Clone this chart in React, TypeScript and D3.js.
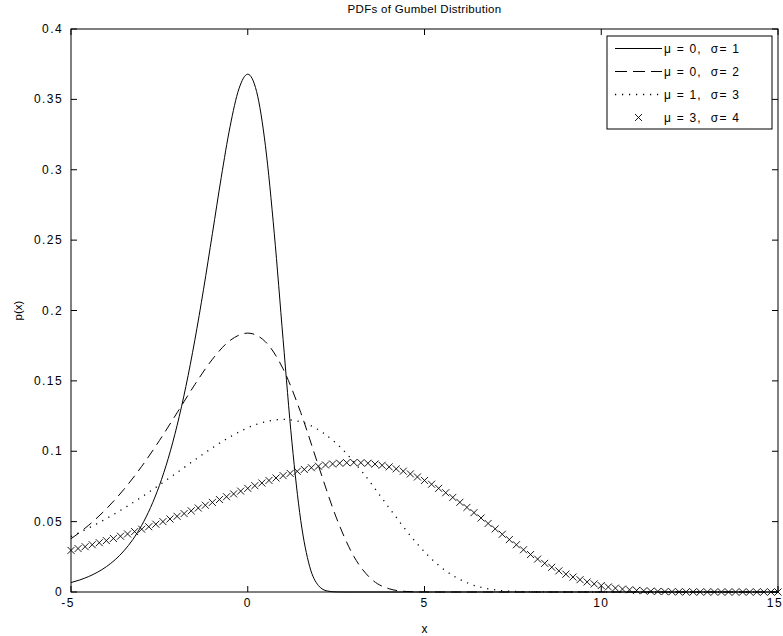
import React from 'react';
import * as d3 from 'd3';

const TITLE = 'PDFs of Gumbel Distribution';
const X_LABEL = 'x';
const Y_LABEL = 'p(x)';
const X_TICKS = [-5, 0, 5, 10, 15];
const X_TICK_LABELS = ['-5', '0', '5', '10', '15'];
const Y_TICKS = [0, 0.05, 0.1, 0.15, 0.2, 0.25, 0.3, 0.35, 0.4];
const Y_TICK_LABELS = ['0', '0.05', '0.1', '0.15', '0.2', '0.25', '0.3', '0.35', '0.4'];
const LEGEND_LABELS = ['\u03bc = 0,  \u03c3= 1', '\u03bc = 0,  \u03c3= 2', '\u03bc = 1,  \u03c3= 3', '\u03bc = 3,  \u03c3= 4'];

// x grids for each curve
const X1 = d3.range(81).map((i) => -5 + i * 0.25);
const X2 = d3.range(41).map((i) => -5 + i * 0.5);
const X3 = d3.range(27).map((i) => -5 + i * 0.75);
const X4 = d3.range(101).map((i) => -5 + i * 0.2);

// mu = 0, sigma = 1
const Y1 = [
  0.006693, 0.008577, 0.010986, 0.014062, 0.017983, 0.022971, 0.029299, 0.0373, 0.047369, 0.059969,
  0.075616, 0.094856, 0.118205, 0.146056, 0.178506, 0.215132, 0.254646, 0.294536, 0.330703, 0.357438,
  0.367879, 0.355573, 0.317049, 0.254866, 0.179374, 0.10642, 0.050705, 0.018232, 0.004567, 0.000717,
  0.000063, 0, 0, 0, 0, 0, 0, 0, 0, 0,
  0, 0, 0, 0, 0, 0, 0, 0, 0, 0,
  0, 0, 0, 0, 0, 0, 0, 0, 0, 0,
  0, 0, 0, 0, 0, 0, 0, 0, 0, 0,
  0, 0, 0, 0, 0, 0, 0, 0, 0, 0,
  0,
];
// mu = 0, sigma = 2
const Y2 = [
  0.037808, 0.047428, 0.059103, 0.073028, 0.089253, 0.107566, 0.127323, 0.147268, 0.165352, 0.178719,
  0.18394, 0.177787, 0.158525, 0.127433, 0.089687, 0.05321, 0.025353, 0.009116, 0.002284, 0.000359,
  0.000031, 0, 0, 0, 0, 0, 0, 0, 0, 0,
  0, 0, 0, 0, 0, 0, 0, 0, 0, 0,
  0,
];
// mu = 1, sigma = 3
const Y3 = [
  0.039402, 0.048685, 0.059502, 0.071711, 0.084882, 0.098179, 0.110234, 0.119146, 0.122626, 0.118524,
  0.105683, 0.084955, 0.059791, 0.035473, 0.016902, 0.006077, 0.001522, 0.000239, 0.000021, 0,
  0, 0, 0, 0, 0, 0, 0,
];
// mu = 3, sigma = 4 (markers)
const Y4 = [
  0.029551, 0.030852, 0.032198, 0.03359, 0.035029, 0.036514, 0.038045, 0.039623, 0.041247, 0.042915,
  0.044627, 0.046381, 0.048176, 0.05001, 0.05188, 0.053783, 0.055716, 0.057675, 0.059656, 0.061653,
  0.063662, 0.065675, 0.067687, 0.069689, 0.071674, 0.073634, 0.075556, 0.077433, 0.079254, 0.081005,
  0.082676, 0.084254, 0.085725, 0.087075, 0.088292, 0.08936, 0.090263, 0.09099, 0.091526, 0.091857,
  0.09197, 0.091853, 0.091496, 0.090888, 0.090022, 0.088893, 0.087497, 0.085832, 0.083901, 0.081708,
  0.079262, 0.07657, 0.073652, 0.070522, 0.067203, 0.063717, 0.060095, 0.056363, 0.052555, 0.048699,
  0.044844, 0.04101, 0.037237, 0.033558, 0.030005, 0.026605, 0.023387, 0.020369, 0.017571, 0.015005,
  0.012676, 0.010591, 0.008745, 0.007132, 0.00574, 0.004558, 0.003567, 0.00275, 0.002087, 0.001557,
  0.001142, 0.000822, 0.00058, 0.000401, 0.000272, 0.000179, 0.000116, 0.000073, 0.000045, 0.000027,
  0.000016, 0.000009, 0, 0, 0, 0, 0, 0, 0, 0,
  0,
];

const W = 783;
const H = 636;
const L = 71;
const R = 778;
const T = 29;
const B = 592;
const FONT = "'Liberation Sans', Arial, Helvetica, sans-serif";

export default function App() {
  const x = d3.scaleLinear().domain([-5, 15]).range([L, R]);
  const y = d3.scaleLinear().domain([0, 0.4]).range([B, T]);
  const mk = (xs: number[], ys: number[]) =>
    d3
      .line<number>()
      .x((_, i) => x(xs[i]))
      .y((d) => y(d))
      .curve(d3.curveMonotoneX)(ys) || '';

  const tick = 6;
  const legendRows = [48.5, 71.5, 94.5, 117.5];
  const lx0 = 615;
  const lx1 = 662;
  const xMark = 'M-3.5,-3.5L3.5,3.5M-3.5,3.5L3.5,-3.5';

  return (
    <svg
      width={W}
      height={H}
      style={{ position: 'absolute', left: 0, top: 0, background: '#fff' }}
      fontFamily={FONT}
    >
      <rect x={0} y={0} width={W} height={H} fill="#fff" />
      {/* curves */}
      <g fill="none" stroke="#000" strokeWidth={1}>
        <path d={mk(X1, Y1)} />
        <path d={mk(X2, Y2)} strokeDasharray="10,6" />
        <path d={mk(X3, Y3)} strokeDasharray="1.2,5.8" strokeWidth={1.3} />
      </g>
      <g stroke="#000" strokeWidth={0.9} fill="none">
        {Y4.map((v, i) => (
          <path key={i} d={xMark} transform={`translate(${x(X4[i])},${y(v)})`} />
        ))}
      </g>
      {/* axes box */}
      <rect x={L} y={T} width={R - L} height={B - T} fill="none" stroke="#000" strokeWidth={1} />
      {/* ticks */}
      <g stroke="#000" strokeWidth={1}>
        {X_TICKS.map((t) => (
          <g key={'xt' + t}>
            <line x1={x(t)} x2={x(t)} y1={B} y2={B - tick} />
            <line x1={x(t)} x2={x(t)} y1={T} y2={T + tick} />
          </g>
        ))}
        {Y_TICKS.map((t) => (
          <g key={'yt' + t}>
            <line x1={L} x2={L + tick} y1={y(t)} y2={y(t)} />
            <line x1={R} x2={R - tick} y1={y(t)} y2={y(t)} />
          </g>
        ))}
      </g>
      {/* tick labels */}
      <g fontSize={12} fill="#000" letterSpacing={1.4}>
        {X_TICKS.map((t, i) => (
          <text
            key={'xl' + t}
            x={i === X_TICKS.length - 1 ? 783 : i === 0 ? x(t) - 3 : x(t)}
            y={607}
            textAnchor={i === X_TICKS.length - 1 ? 'end' : 'middle'}
          >
            {X_TICK_LABELS[i]}
          </text>
        ))}
        {Y_TICKS.map((t, i) => (
          <text key={'yl' + t} x={63} y={y(t) + 4} textAnchor="end">
            {Y_TICK_LABELS[i]}
          </text>
        ))}
      </g>
      {/* title and axis labels */}
      <text x={(L + R) / 2} y={13} textAnchor="middle" fontSize={11.5} letterSpacing={0.3}>
        {TITLE}
      </text>
      <text x={(L + R) / 2} y={633} textAnchor="middle" fontSize={12}>
        {X_LABEL}
      </text>
      <text
        transform={`translate(22,${(T + B) / 2}) rotate(-90)`}
        textAnchor="middle"
        fontSize={11.5}
      >
        {Y_LABEL}
      </text>
      {/* legend */}
      <rect x={607} y={36} width={165} height={93} fill="#fff" stroke="#000" strokeWidth={1} />
      <g stroke="#000" strokeWidth={1}>
        <line x1={lx0} x2={lx1} y1={legendRows[0]} y2={legendRows[0]} />
        <line x1={lx0} x2={lx1} y1={legendRows[1]} y2={legendRows[1]} strokeDasharray="12,6" />
        <line x1={lx0} x2={lx1} y1={legendRows[2]} y2={legendRows[2]} strokeDasharray="1.2,5.8" strokeWidth={1.3} />
        <path d={xMark} transform={`translate(${(lx0 + lx1) / 2},${legendRows[3]})`} fill="none" strokeWidth={0.9} />
      </g>
      <g fontSize={12} letterSpacing={1.2}>
        {LEGEND_LABELS.map((s, i) => (
          <text key={s} x={664} y={legendRows[i] + 4} xmlSpace="preserve" style={{ whiteSpace: 'pre' }}>
            {s}
          </text>
        ))}
      </g>
    </svg>
  );
}
